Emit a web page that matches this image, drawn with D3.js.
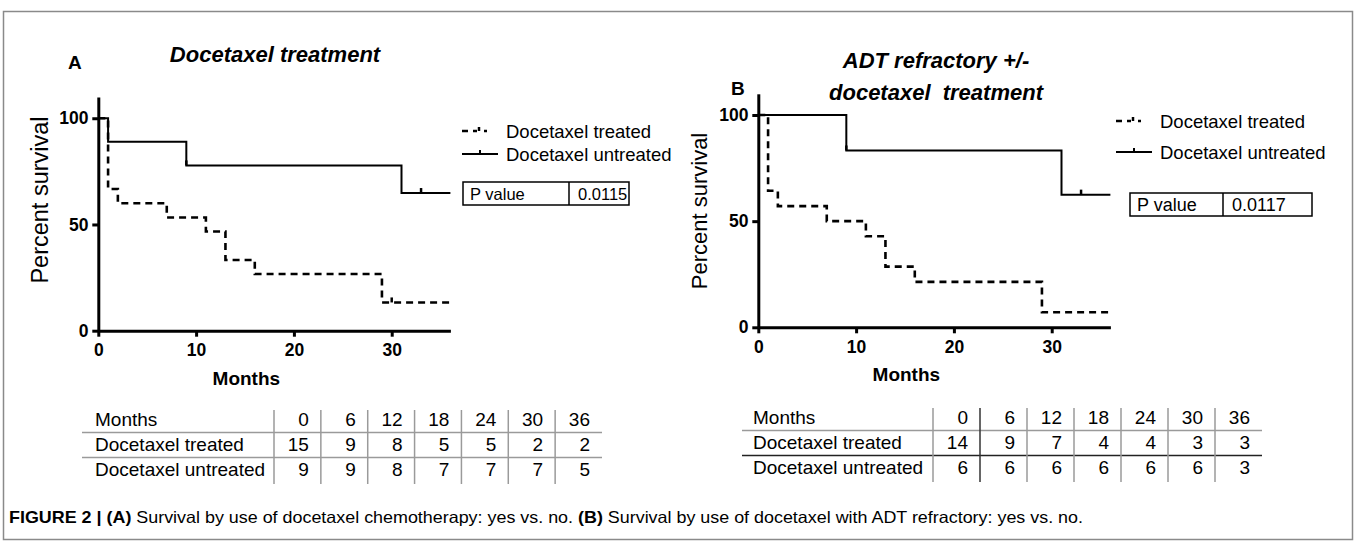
<!DOCTYPE html>
<html>
<head>
<meta charset="utf-8">
<script src="https://cdn.jsdelivr.net/npm/d3@7"></script>
<style>
  body { margin: 0; background: #fff; }
  text { font-family: "Liberation Sans", Arial, sans-serif; }
</style>
</head>
<body>
<svg id="fig" width="1357" height="544"></svg>
<script>
// survival steps [month, percent]
var aTreated = [[0,100],[1,66.7],[2,60],[7,53.3],[11,46.7],[13,33.3],[16,26.7],[29,13.3],[36,13.3]];
var aUntreated = [[0,100],[1,88.9],[9,77.8],[31,64.8],[36,64.8]];
var aTreatedCens = [[30,13.3]];
var aUntreatedCens = [[9,77.8],[33,64.8]];

var bTreated = [[0,100],[1,64.3],[2,57.1],[7,50],[11,42.9],[13,28.6],[16,21.4],[29,7.1],[36,7.1]];
var bUntreated = [[0,100],[9,83.3],[31,62.5],[36,62.5]];
var bTreatedCens = [];
var bUntreatedCens = [[9,83.3],[33,62.5]];

var xTicks = [0,10,20,30];
var yTicks = [0,50,100];

// numbers at risk
var riskMonths = [0,6,12,18,24,30,36];
var aRiskTreated = [15,9,8,5,5,2,2];
var aRiskUntreated = [9,9,8,7,7,7,5];
var bRiskTreated = [14,9,7,4,4,3,3];
var bRiskUntreated = [6,6,6,6,6,6,3];

var seriesNames = ["Docetaxel treated", "Docetaxel untreated"];
var pValues = ["0.0115", "0.0117"];

var svg = d3.select("#fig");

// outer frame
svg.append("rect")
    .attr("x", 3.5).attr("y", 11.5)
    .attr("width", 1349).attr("height", 528)
    .attr("fill", "none").attr("stroke", "#8a8a8a").attr("stroke-width", 1.5);

function drawPanel(p){
    var g = svg.append("g");
    var x = d3.scaleLinear().domain([0,36]).range([p.x0, p.x1]);
    var y = d3.scaleLinear().domain([0,110]).range([p.y0, p.y1]);

    // axes
    var xAx = g.append("g").attr("transform", "translate(0," + p.y0 + ")")
        .call(d3.axisBottom(x).tickValues(xTicks).tickSize(6).tickSizeOuter(0));
    var yAx = g.append("g").attr("transform", "translate(" + p.x0 + ",0)")
        .call(d3.axisLeft(y).tickValues(yTicks).tickSize(6).tickSizeOuter(0));
    [xAx, yAx].forEach(function(a){
        a.select(".domain").attr("stroke", "#000").attr("stroke-width", 3);
        a.selectAll(".tick line").attr("stroke", "#000").attr("stroke-width", 3);
        a.selectAll(".tick text").attr("fill", "#000")
            .style("font-family", "'Liberation Sans', Arial, sans-serif")
            .style("font-size", "17.5px").style("font-weight", "bold");
    });
    xAx.selectAll(".tick text").attr("dy", "0.95em");
    yAx.selectAll(".tick text").attr("dx", "-0.05em");

    // axis labels
    g.append("text").attr("x", (x(0) + x(36)) / 2 - 28).attr("y", p.y0 + 54)
        .attr("text-anchor", "middle").style("font-size", "19px").style("font-weight", "bold")
        .text("Months");
    g.append("text")
        .attr("transform", "translate(" + (p.x0 - p.yLabOff) + "," + p.yLabY + ") rotate(-90)")
        .attr("text-anchor", "middle").style("font-size", p.yLabFont)
        .text("Percent survival");

    // panel letter and title
    g.append("text").attr("x", p.letterX).attr("y", p.letterY)
        .style("font-size", "19px").style("font-weight", "bold").text(p.letter);
    p.title.forEach(function(t, i){
        g.append("text").attr("x", p.titleX).attr("y", p.titleY + i * 32)
            .attr("text-anchor", "middle")
            .style("font-size", "22px").style("font-weight", "bold").style("font-style", "italic")
            .style("white-space", "pre")
            .text(t);
    });

    var line = d3.line().x(function(d){ return x(d[0]); }).y(function(d){ return y(d[1]); })
        .curve(d3.curveStepAfter);

    g.append("path").datum(p.untreated).attr("d", line)
        .attr("fill", "none").attr("stroke", "#000").attr("stroke-width", 2);
    g.append("path").datum(p.treated).attr("d", line)
        .attr("fill", "none").attr("stroke", "#000").attr("stroke-width", 2.6)
        .attr("stroke-dasharray", "7,5");

    // censor marks
    g.selectAll(".cens").data(p.untreatedCens.concat(p.treatedCens)).enter().append("line")
        .attr("x1", function(d){ return x(d[0]); }).attr("x2", function(d){ return x(d[0]); })
        .attr("y1", function(d){ return y(d[1]); }).attr("y2", function(d){ return y(d[1]) - 5; })
        .attr("stroke", "#000").attr("stroke-width", 2.5);

    // legend
    seriesNames.forEach(function(name, i){
        var ly = p.legY + i * p.legGap;
        var lg = g.append("g");
        if (i === 0) {
            lg.append("line").attr("x1", p.legX).attr("x2", p.legX + 36).attr("y1", ly).attr("y2", ly)
                .attr("stroke", "#000").attr("stroke-width", 2.6).attr("stroke-dasharray", "6,5,4,7,3,30");
            lg.append("line").attr("x1", p.legX + 17).attr("x2", p.legX + 17).attr("y1", ly).attr("y2", ly - 4)
                .attr("stroke", "#000").attr("stroke-width", 2.5);
        } else {
            lg.append("line").attr("x1", p.legX).attr("x2", p.legX + 36).attr("y1", ly).attr("y2", ly)
                .attr("stroke", "#000").attr("stroke-width", 2);
            lg.append("line").attr("x1", p.legX + 18).attr("x2", p.legX + 18).attr("y1", ly).attr("y2", ly - 4)
                .attr("stroke", "#000").attr("stroke-width", 2);
        }
        lg.append("text").attr("x", p.legX + 44).attr("y", ly + 6.5)
            .style("font-size", "18.5px").text(name);
    });

    // p value box
    var bx = p.boxX, by = p.boxY, bw = p.boxW, bh = 23;
    g.append("rect").attr("x", bx).attr("y", by).attr("width", bw).attr("height", bh)
        .attr("fill", "none").attr("stroke", "#000").attr("stroke-width", 1.5);
    g.append("line").attr("x1", p.boxDiv).attr("x2", p.boxDiv).attr("y1", by).attr("y2", by + bh)
        .attr("stroke", "#000").attr("stroke-width", 1.5);
    g.append("text").attr("x", bx + 7).attr("y", by + 18).style("font-size", p.boxFont).text("P value");
    g.append("text").attr("x", p.boxDiv + 9).attr("y", by + 18).style("font-size", p.boxFont).text(p.pValue);

    // number at risk table
    var t = p.table;
    var colX = d3.scaleLinear().domain([0, riskMonths.length]).range([t.sep0, t.sepEnd]);
    var rows = [["Months"].concat(riskMonths), [seriesNames[0]].concat(p.riskT), [seriesNames[1]].concat(p.riskU)];
    rows.forEach(function(r, ri){
        var base = t.rowY + ri * 25;
        g.append("text").attr("x", t.textX).attr("y", base).style("font-size", "19px").text(r[0]);
        r.slice(1).forEach(function(v, ci){
            g.append("text").attr("x", colX(ci + 1) - 12).attr("y", base)
                .attr("text-anchor", "end").style("font-size", "19px").text(v);
        });
    });
    [0, 1].forEach(function(k){
        g.append("line").attr("x1", t.lineX).attr("x2", t.sepEnd)
            .attr("y1", t.rowY + 6.5 + k * 25).attr("y2", t.rowY + 6.5 + k * 25)
            .attr("stroke", t.hColors[k]).attr("stroke-width", 1.5);
    });
    d3.range(0, riskMonths.length).forEach(function(ci){
        g.append("line").attr("x1", colX(ci)).attr("x2", colX(ci))
            .attr("y1", t.rowY - 16).attr("y2", t.rowY + 58)
            .attr("stroke", ci === 1 ? t.vDark : "#9a9a9a").attr("stroke-width", 1.5);
    });
}

drawPanel({
    x0: 98.3, x1: 450.4, y0: 330.7, y1: 97,
    letter: "A", letterX: 68, letterY: 69,
    title: ["Docetaxel treatment"], titleX: 275, titleY: 62,
    yLabOff: 50, yLabY: 200, yLabFont: "23.5px",
    treated: aTreated, untreated: aUntreated, treatedCens: aTreatedCens, untreatedCens: aUntreatedCens,
    legX: 462, legY: 131, legGap: 23,
    boxX: 463, boxY: 182, boxW: 166, boxDiv: 569, boxFont: "16.5px", pValue: pValues[0],
    riskT: aRiskTreated, riskU: aRiskUntreated,
    table: { textX: 95, lineX: 82, sep0: 274, sepEnd: 602, rowY: 426, hColors: ["#9a9a9a", "#9a9a9a"], vDark: "#9a9a9a" }
});

drawPanel({
    x0: 758.3, x1: 1110.4, y0: 327.3, y1: 93.8,
    letter: "B", letterX: 731, letterY: 95,
    title: ["ADT refractory +/-", "docetaxel  treatment"], titleX: 936, titleY: 68,
    yLabOff: 51, yLabY: 211, yLabFont: "22px",
    treated: bTreated, untreated: bUntreated, treatedCens: bTreatedCens, untreatedCens: bUntreatedCens,
    legX: 1116, legY: 121, legGap: 31,
    boxX: 1130, boxY: 193, boxW: 182, boxDiv: 1223, boxFont: "18px", pValue: pValues[1],
    riskT: bRiskTreated, riskU: bRiskUntreated,
    table: { textX: 753, lineX: 742, sep0: 933, sepEnd: 1262, rowY: 424, hColors: ["#9a9a9a", "#222"], vDark: "#333" }
});

// caption
var cap = svg.append("text").attr("x", 9).attr("y", 523).style("font-size", "16.5px")
    .attr("textLength", 1074).attr("lengthAdjust", "spacingAndGlyphs");
[["FIGURE 2 | ", true], ["(A)", true], [" Survival by use of docetaxel chemotherapy: yes vs. no. ", false],
 ["(B)", true], [" Survival by use of docetaxel with ADT refractory: yes vs. no.", false]].forEach(function(s){
    cap.append("tspan").style("font-weight", s[1] ? "bold" : "normal").style("white-space", "pre").text(s[0]);
});
</script>
</body>
</html>
